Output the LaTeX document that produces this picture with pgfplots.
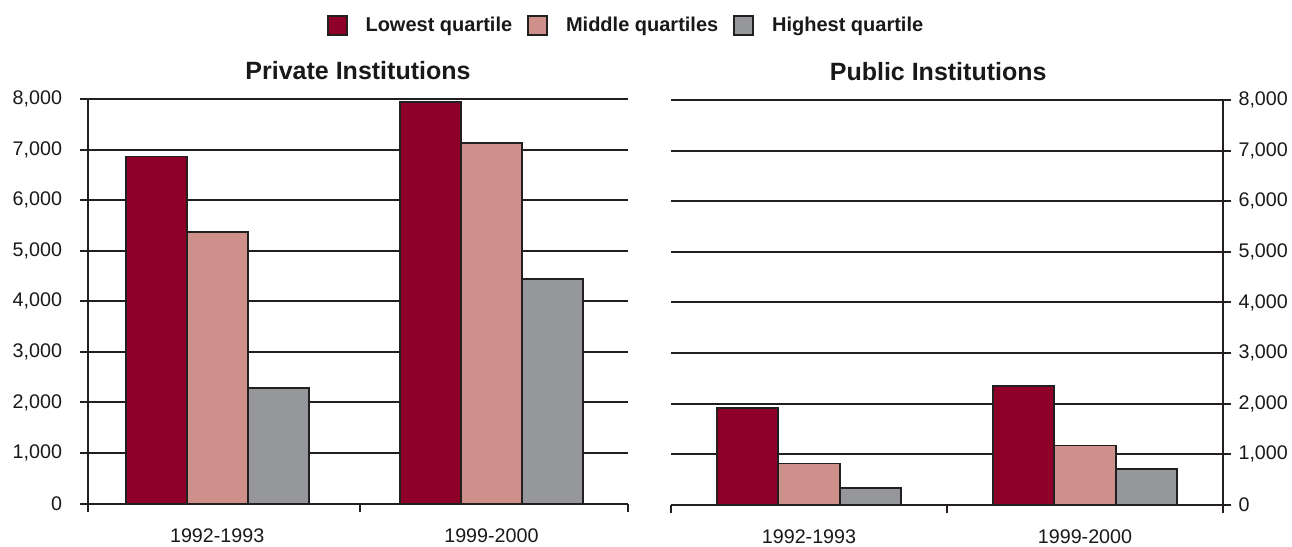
\documentclass[border=0pt]{standalone}
\usepackage{pgfplots}
\pgfplotsset{compat=1.18}
\usepackage{fontspec}
\setmainfont{Liberation Sans}

\definecolor{lowq}{HTML}{8E0028}
\definecolor{midq}{HTML}{CE908A}
\definecolor{highq}{HTML}{96979B}
\definecolor{edge}{HTML}{231F20}

\pgfplotsset{
  quartpanel/.style={
    scale only axis,
    ybar=0pt,
    ymin=0, ymax=8000,
    ytick={0,1000,...,8000},
    ymajorgrids,
    grid style={edge, line width=2pt},
    axis line style={edge, line width=2pt},
    major tick style={edge, line width=2pt},
    major tick length=8pt,
    tick align=outside,
    xticklabels={},
    extra x ticks={0,1},
    extra x tick labels={1992-1993,1999-2000},
    extra x tick style={major tick length=0pt, grid=none,
      xticklabel style={yshift=-22pt}},
    ticklabel style={font=\fontsize{19.7}{22}\selectfont, text=black!90},
    /pgf/number format/.cd, 1000 sep={,}, assume math mode=true,
    /pgfplots/.cd,
    title style={font=\bfseries\fontsize{25}{28}\selectfont, text=black!90,
      anchor=base, yshift=14pt},
    clip=false,
  },
  lowbar/.style={fill=lowq, draw=edge, line width=1.8pt},
  midbar/.style={fill=midq, draw=edge, line width=1.8pt},
  highbar/.style={fill=highq, draw=edge, line width=1.8pt},
  squarekey/.style={legend image code/.code={
      \draw[##1, line width=1.8pt] (0pt,-9.5pt) rectangle (19pt,9.5pt);}},
}

\begin{document}
\begin{tikzpicture}
\path[use as bounding box] (0pt,0pt) rectangle (1292pt,-546pt);

% Private institutions
\begin{axis}[
  quartpanel,
  at={(88pt,-503.5pt)}, anchor=south west,
  width=540pt, height=404.5pt,
  xmin=-0.471, xmax=1.498,
  xtick={-0.471,0.52,1.498},
  bar width=0.2224,
  axis x line*=bottom, axis y line*=left,
  yticklabel style={xshift=-14.5pt},
  title={Private Institutions},
  legend columns=3,
  legend style={at={(0.9944,1.182)}, anchor=center, draw=none, fill=none,
    font=\bfseries\fontsize{20}{24}\selectfont, text=black!90,
    /tikz/every odd column/.append style={column sep=18pt},
    /tikz/every even column/.append style={column sep=15pt},
    nodes={inner sep=0pt}},
]
\addplot[lowbar, squarekey] coordinates {(0,6862) (1,7934)};
\addplot[midbar, squarekey] coordinates {(0,5369) (1,7132)};
\addplot[highbar, squarekey] coordinates {(0,2283) (1,4434)};
\legend{Lowest quartile, Middle quartiles, Highest quartile}
\end{axis}

% Public institutions
\begin{axis}[
  quartpanel,
  at={(671pt,-504.7pt)}, anchor=south west,
  width=552pt, height=404.6pt,
  xmin=-0.5, xmax=1.5,
  xtick={-0.5,0.5,1.5},
  bar width=0.2228,
  axis x line*=bottom, axis y line*=right,
  yticklabel style={xshift=4pt},
  title={Public Institutions},
  title style={at={(0.484,1)}},
]
\addplot[lowbar] coordinates {(0,1908) (1,2342)};
\addplot[midbar] coordinates {(0,816) (1,1171)};
\addplot[highbar] coordinates {(0,329) (1,711)};
\end{axis}
\end{tikzpicture}
\end{document}
